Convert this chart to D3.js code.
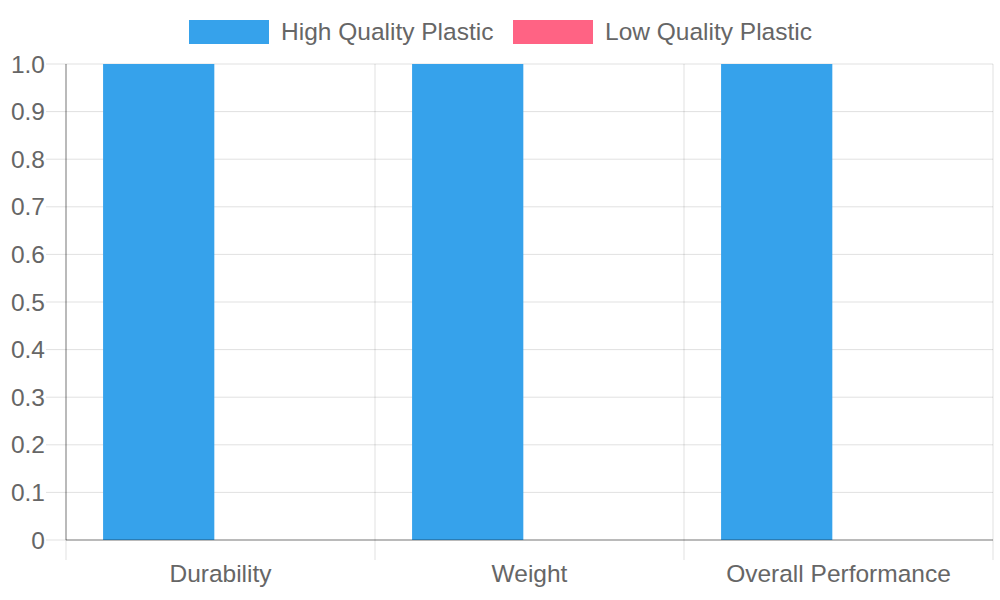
<!DOCTYPE html>
<html>
<head>
<meta charset="utf-8">
<script src="https://cdn.jsdelivr.net/npm/d3@7/dist/d3.min.js"></script>
<style>
  body { margin: 0; background: #fff; }
  text { font-family: 'Liberation Sans', Arial, sans-serif; fill: #666; }
</style>
</head>
<body>
<div id="chart"></div>
<script>
const categories = ['Durability', 'Weight', 'Overall Performance'];
const seriesNames = ['High Quality Plastic', 'Low Quality Plastic'];
const highQuality = [1, 1, 1];
const lowQuality = [0, 0, 0];
const yTicks = [0, 0.1, 0.2, 0.3, 0.4, 0.5, 0.6, 0.7, 0.8, 0.9, 1.0];
const colors = ['#36A2EB', '#FF6384'];

const width = 1000;
const height = 600;
const plot = { left: 66, right: 993, top: 64, bottom: 540 };
const fontSize = 24.5;

const svg = d3.select('#chart')
  .append('svg')
  .attr('width', width)
  .attr('height', height);

const x = d3.scaleBand()
  .domain(categories)
  .range([plot.left, plot.right]);

// bars take 80% of each category, each bar 90% of its slot
const x1 = d3.scaleBand()
  .domain(seriesNames)
  .range([x.bandwidth() * 0.1, x.bandwidth() * 0.9])
  .paddingInner(0.1)
  .paddingOuter(0.05);

const y = d3.scaleLinear()
  .domain([0, 1])
  .range([plot.bottom, plot.top]);

const gridColor = 'rgba(0,0,0,0.12)';
const axisColor = 'rgba(0,0,0,0.3)';

// horizontal grid
svg.append('g')
  .selectAll('line')
  .data(yTicks)
  .enter()
  .append('line')
  .attr('x1', plot.left - 20)
  .attr('x2', plot.right)
  .attr('y1', (d) => y(d))
  .attr('y2', (d) => y(d))
  .attr('stroke', gridColor)
  .attr('stroke-width', 1);

// vertical grid
const xEdges = categories.map((c) => x(c)).concat([plot.right]);
svg.append('g')
  .selectAll('line')
  .data(xEdges)
  .enter()
  .append('line')
  .attr('x1', (d) => d)
  .attr('x2', (d) => d)
  .attr('y1', plot.top)
  .attr('y2', plot.bottom + 20)
  .attr('stroke', gridColor)
  .attr('stroke-width', 1);

// bars
const data = categories.map((c, i) => ({ cat: c, values: [highQuality[i], lowQuality[i]] }));
const groups = svg.selectAll('.group')
  .data(data)
  .enter()
  .append('g')
  .attr('class', 'group')
  .attr('transform', (d) => `translate(${x(d.cat)},0)`);

groups.selectAll('rect')
  .data((d) => d.values.map((v, i) => ({ name: seriesNames[i], value: v, color: colors[i] })))
  .enter()
  .append('rect')
  .attr('x', (d) => x1(d.name))
  .attr('width', x1.bandwidth())
  .attr('y', (d) => y(d.value))
  .attr('height', (d) => y(0) - y(d.value))
  .attr('fill', (d) => d.color);

// axis lines
svg.append('line')
  .attr('x1', plot.left)
  .attr('x2', plot.right)
  .attr('y1', y(0))
  .attr('y2', y(0))
  .attr('stroke', axisColor)
  .attr('stroke-width', 1.5);
svg.append('line')
  .attr('x1', plot.left)
  .attr('x2', plot.left)
  .attr('y1', plot.top)
  .attr('y2', plot.bottom)
  .attr('stroke', axisColor)
  .attr('stroke-width', 1.5);

// y labels
svg.append('g')
  .selectAll('text')
  .data(yTicks)
  .enter()
  .append('text')
  .attr('x', plot.left - 21)
  .attr('y', (d) => y(d))
  .attr('dy', '0.35em')
  .attr('text-anchor', 'end')
  .attr('font-size', fontSize)
  .text((d) => (d === 0 ? '0' : d3.format('.1f')(d)));

// x labels
svg.append('g')
  .selectAll('text')
  .data(categories)
  .enter()
  .append('text')
  .attr('x', (d) => x(d) + x.bandwidth() / 2)
  .attr('y', 582)
  .attr('text-anchor', 'middle')
  .attr('font-size', fontSize)
  .text((d) => d);

// legend
const legend = svg.append('g');
const legendItems = [
  { name: seriesNames[0], color: colors[0], x: 189 },
  { name: seriesNames[1], color: colors[1], x: 513 },
];
legendItems.forEach((d) => {
  legend.append('rect')
    .attr('x', d.x)
    .attr('y', 20)
    .attr('width', 80)
    .attr('height', 24)
    .attr('fill', d.color);
  legend.append('text')
    .attr('x', d.x + 92)
    .attr('y', 40)
    .attr('font-size', fontSize)
    .text(d.name);
});
</script>
</body>
</html>
